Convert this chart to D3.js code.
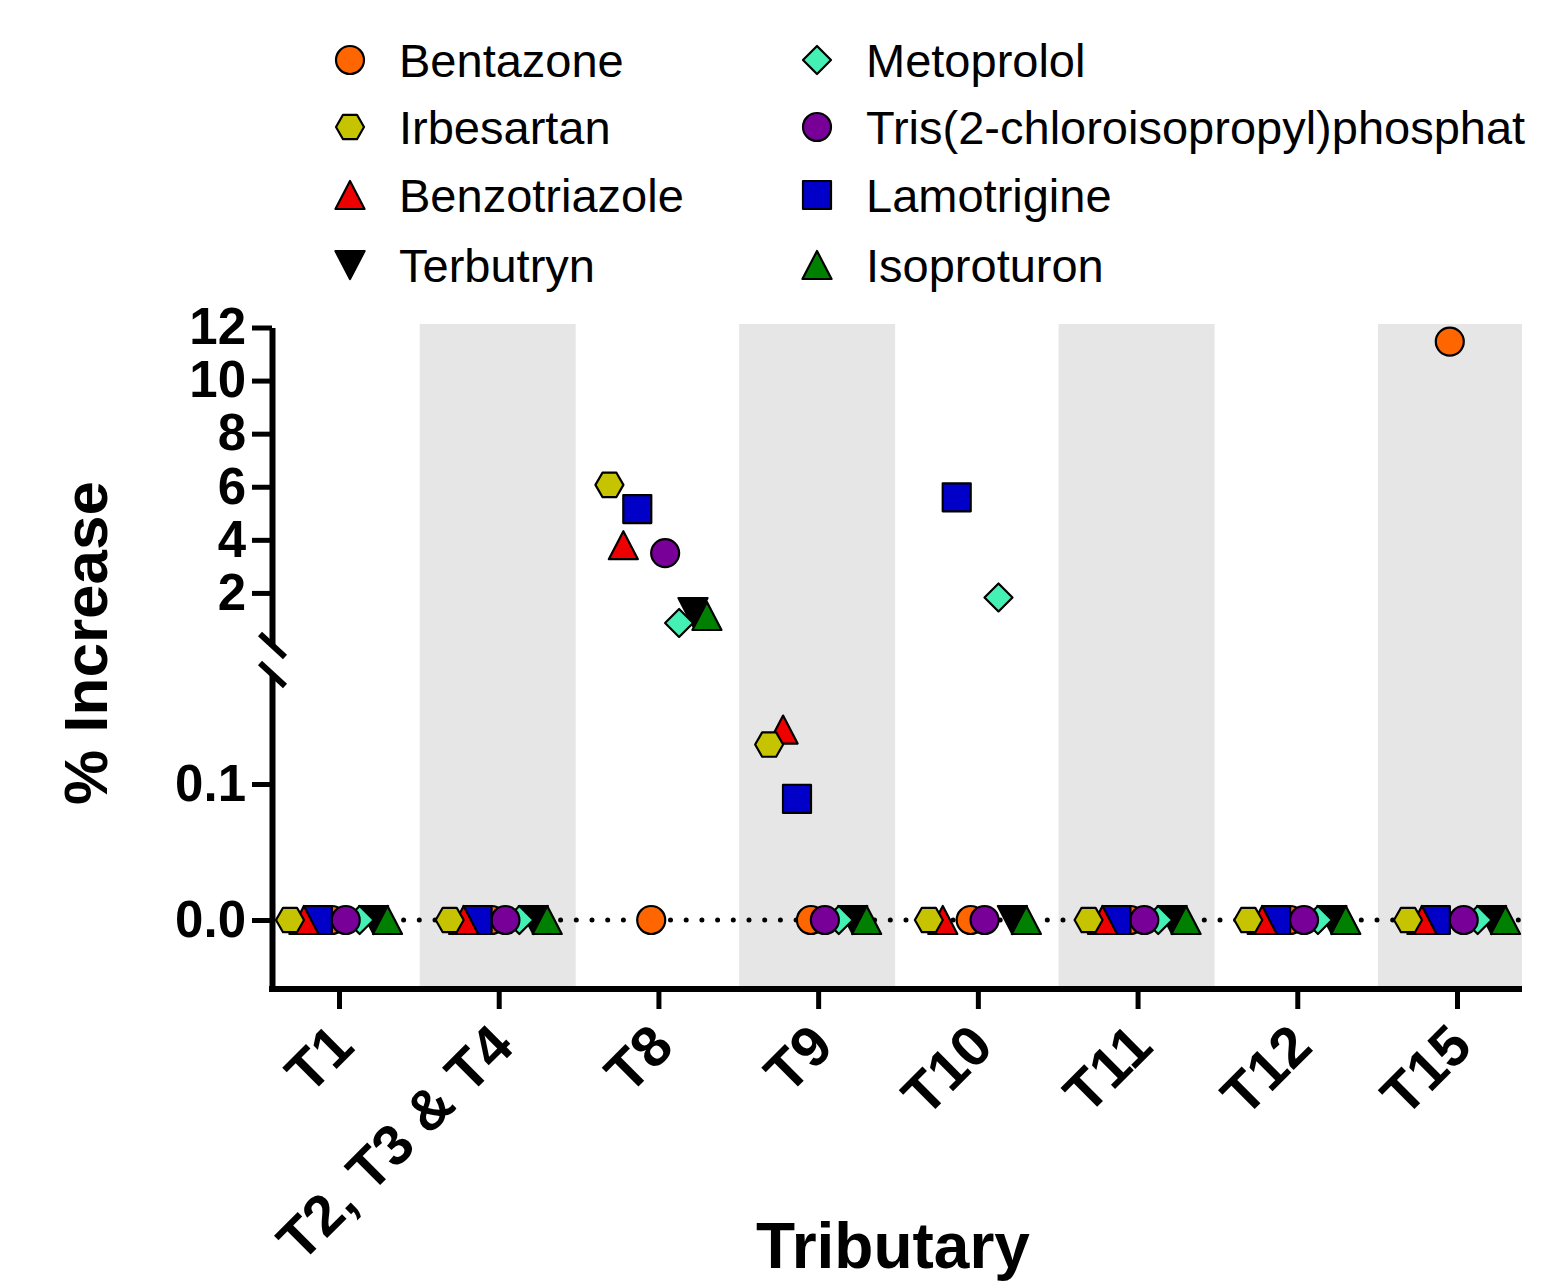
<!DOCTYPE html>
<html>
<head>
<meta charset="utf-8">
<script src="https://cdn.jsdelivr.net/npm/d3@7"></script>
<style>
  body { margin: 0; background: #fff; }
  svg { font-family: "Liberation Sans", Arial, sans-serif; }
</style>
</head>
<body>
<svg id="chart" width="1564" height="1284"></svg>
<script>
// tributaries on the x axis
const tributaries = ["T1", "T2, T3 & T4", "T8", "T9", "T10", "T11", "T12", "T15"];

// % increase per compound, one value per tributary
const bentazone     = [0, 0, 0,    0,     0,    0, 0, 11.47];
const metoprolol    = [0, 0, 0.87, 0,     1.83, 0, 0, 0];
const irbesartan    = [0, 0, 6.07, 0.129, 0,    0, 0, 0];
const tris          = [0, 0, 3.5,  0,     0,    0, 0, 0];
const benzotriazole = [0, 0, 3.8,  0.14,  0,    0, 0, 0];
const lamotrigine   = [0, 0, 5.16, 0.089, 5.6,  0, 0, 0];
const terbutryn     = [0, 0, 1.28, 0,     0,    0, 0, 0];
const isoproturon   = [0, 0, 1.13, 0,     0,    0, 0, 0];

const upperTicks = [2, 4, 6, 8, 10, 12];
const lowerTicks = [0, 0.1];

const series = [
  { name: "Bentazone", values: bentazone, color: "#ff6600", shape: "circle" },
  { name: "Metoprolol", values: metoprolol, color: "#44f0b4", shape: "diamond" },
  { name: "Irbesartan", values: irbesartan, color: "#c6c300", shape: "hexagon" },
  { name: "Tris(2-chloroisopropyl)phosphat", values: tris, color: "#780099", shape: "circle" },
  { name: "Benzotriazole", values: benzotriazole, color: "#ee0000", shape: "triangle" },
  { name: "Lamotrigine", values: lamotrigine, color: "#0000c8", shape: "square" },
  { name: "Terbutryn", values: terbutryn, color: "#000000", shape: "triangleDown" },
  { name: "Isoproturon", values: isoproturon, color: "#008000", shape: "triangle" }
];

// left-to-right order inside a tributary column
const dodgeOrder = ["Irbesartan", "Benzotriazole", "Lamotrigine", "Bentazone",
  "Tris(2-chloroisopropyl)phosphat", "Metoprolol", "Terbutryn", "Isoproturon"];
// painting order (later on top)
const drawOrder = ["Bentazone", "Terbutryn", "Metoprolol", "Tris(2-chloroisopropyl)phosphat",
  "Lamotrigine", "Benzotriazole", "Irbesartan", "Isoproturon"];

function shapePath(shape, s) {
  const p = d3.path();
  if (shape === "circle") {
    p.moveTo(s, 0); p.arc(0, 0, s, 0, 2 * Math.PI);
  } else if (shape === "square") {
    p.rect(-s, -s, 2 * s, 2 * s);
  } else if (shape === "diamond") {
    p.moveTo(0, -s); p.lineTo(s, 0); p.lineTo(0, s); p.lineTo(-s, 0);
  } else if (shape === "hexagon") {
    const h = s * 0.87;
    p.moveTo(-s, 0); p.lineTo(-s / 2, -h); p.lineTo(s / 2, -h);
    p.lineTo(s, 0); p.lineTo(s / 2, h); p.lineTo(-s / 2, h);
  } else if (shape === "triangle") {
    p.moveTo(0, -s); p.lineTo(s * 1.04, s); p.lineTo(-s * 1.04, s);
  } else if (shape === "triangleDown") {
    p.moveTo(0, s); p.lineTo(s * 1.04, -s); p.lineTo(-s * 1.04, -s);
  }
  p.closePath();
  return p.toString();
}

const svg = d3.select("#chart");
const left = 272, right = 1522, plotTop = 324, axisY = 989;

const x = d3.scalePoint().domain(tributaries).range([339, 1457]);
const dodge = d3.scalePoint().domain(dodgeOrder).range([-49, 48.5]);

// broken y axis: two linear segments
const yTop = d3.scaleLinear().domain([0, 12]).range([646, 327.5]);
const yLow = d3.scaleLinear().domain([0, 0.1]).range([920, 784]);
const lowAxisScale = yLow.copy().domain([yLow.invert(axisY), yLow.invert(673)]).range([axisY, 673]);
const yFor = v => v > 0.2 ? yTop(v) : yLow(v);

// shaded columns
svg.append("g").selectAll("rect")
  .data(tributaries.filter((d, i) => i % 2 === 1))
  .enter().append("rect")
  .attr("x", d => x(d) - 79)
  .attr("y", plotTop)
  .attr("width", d => Math.min(156, right - (x(d) - 79)))
  .attr("height", axisY - plotTop)
  .attr("fill", "#e6e6e6");

// dotted zero line
svg.append("line")
  .attr("x1", left + 6).attr("x2", right)
  .attr("y1", yLow(0)).attr("y2", yLow(0))
  .attr("stroke", "#000").attr("stroke-width", 5)
  .attr("stroke-linecap", "round")
  .attr("stroke-dasharray", "0,15.7");

// axes
function styleAxis(g, size) {
  g.select(".domain").attr("stroke-width", 6);
  g.selectAll(".tick line").attr("stroke-width", 5);
  g.selectAll(".tick text")
    .attr("font-size", size).attr("font-weight", "bold")
    .attr("font-family", "Liberation Sans, Arial, sans-serif");
}

svg.append("g")
  .attr("transform", `translate(${left},0)`)
  .call(d3.axisLeft(yTop).tickValues(upperTicks).tickSize(20).tickSizeOuter(0).tickPadding(6))
  .call(styleAxis, 51);

svg.append("g")
  .attr("transform", `translate(${left},0)`)
  .call(d3.axisLeft(lowAxisScale).tickValues(lowerTicks).tickFormat(d3.format(".1f"))
    .tickSize(20).tickSizeOuter(0).tickPadding(6))
  .call(styleAxis, 51);

// break marks
const breakTop = yTop(0);
[[-12, breakTop - 12], [-12, breakTop + 17]].forEach(([dx, y0]) => {
  svg.append("line")
    .attr("x1", left + dx).attr("y1", y0)
    .attr("x2", left + dx + 25).attr("y2", y0 + 23)
    .attr("stroke", "#000").attr("stroke-width", 6);
});

const xAxis = svg.append("g")
  .attr("transform", `translate(0,${axisY})`)
  .call(d3.axisBottom(x).tickSize(20).tickSizeOuter(0))
  .call(styleAxis, 57);
xAxis.select(".domain").remove();
xAxis.append("line")
  .attr("x1", left - 3).attr("x2", right)
  .attr("stroke", "#000").attr("stroke-width", 6);
xAxis.selectAll(".tick text")
  .attr("x", 0).attr("y", 0).attr("dy", 0)
  .attr("transform", "translate(17,60) rotate(-45)")
  .style("text-anchor", "end");

// points
const points = [];
drawOrder.forEach(name => {
  const s = series.find(d => d.name === name);
  s.values.forEach((v, i) => points.push({ series: s, trib: tributaries[i], value: v }));
});

svg.append("g").selectAll("path")
  .data(points)
  .enter().append("path")
  .attr("transform", d => `translate(${x(d.trib) + dodge(d.series.name)},${yFor(d.value)})`)
  .attr("d", d => shapePath(d.series.shape, 14))
  .attr("fill", d => d.series.color)
  .attr("stroke", "#000")
  .attr("stroke-width", 2.2)
  .attr("stroke-linejoin", "round");

// axis titles
svg.append("text")
  .attr("transform", "translate(107,643) rotate(-90)")
  .attr("text-anchor", "middle")
  .attr("font-size", 62).attr("font-weight", "bold")
  .text("% Increase");

svg.append("text")
  .attr("x", 893).attr("y", 1268)
  .attr("text-anchor", "middle")
  .attr("font-size", 64).attr("font-weight", "bold")
  .text("Tributary");

// legend, two columns
const legendCols = [
  ["Bentazone", "Irbesartan", "Benzotriazole", "Terbutryn"],
  ["Metoprolol", "Tris(2-chloroisopropyl)phosphat", "Lamotrigine", "Isoproturon"]
];
const legendX = [350, 817];
const legendY = [60, 127, 195, 265];

legendCols.forEach((col, c) => {
  const lg = svg.append("g").selectAll("g")
    .data(col)
    .enter().append("g")
    .attr("transform", (d, i) => `translate(${legendX[c]},${legendY[i]})`);
  lg.append("path")
    .attr("d", d => shapePath(series.find(s => s.name === d).shape, 14))
    .attr("fill", d => series.find(s => s.name === d).color)
    .attr("stroke", "#000").attr("stroke-width", 2.2)
    .attr("stroke-linejoin", "round");
  lg.append("text")
    .attr("x", 49).attr("y", 17)
    .attr("font-size", 47)
    .text(d => d);
});
</script>
</body>
</html>
